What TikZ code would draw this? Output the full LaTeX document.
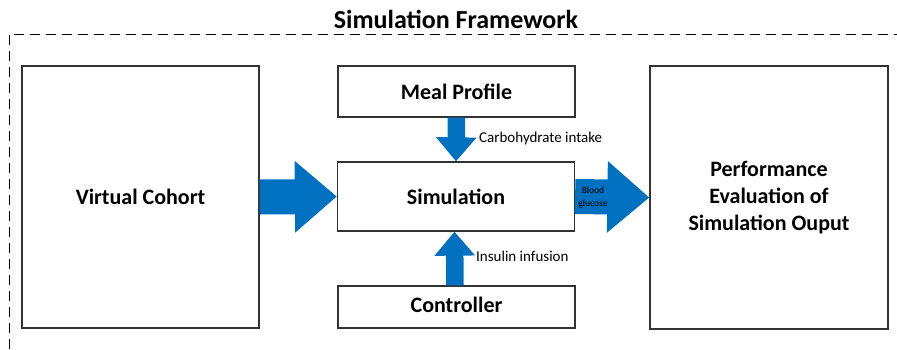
\documentclass[tikz,border=0pt]{standalone}
\usepackage{fontspec}
\setmainfont{Carlito}
\usetikzlibrary{arrows.meta}
\definecolor{flowblue}{HTML}{0070C0}
\definecolor{boxline}{HTML}{333333}
\tikzset{
  block/.style={draw=boxline, line width=1.3pt, fill=white, inner sep=0pt,
    align=center, font=\fontsize{22}{27}\selectfont\bfseries},
  bigflow/.style={draw=flowblue, line width=35pt,
    -{Triangle[length=42pt,width=69pt]}},
  smallflow/.style={draw=flowblue, line width=17.5pt,
    -{Triangle[length=24pt,width=39pt]}},
  flowlabel/.style={font=\fontsize{15}{17}\selectfont, anchor=west, inner sep=0pt},
  frame/.style={draw=black, line width=1pt, dash pattern=on 10pt off 6pt}
}
\begin{document}
\begin{tikzpicture}[x=1pt, y=-1pt]
  \useasboundingbox (0,0) rectangle (897,349);

  % outer framework boundary (only top and left edges fall on the page)
  \coordinate (fbl) at (9,349);
  \coordinate (ftl) at (9,34);
  \coordinate (ftr) at (897,34);
  \draw[frame] (fbl) -- (ftl) -- (ftr);
  \node[font=\fontsize{26}{28}\selectfont\bfseries, anchor=base] (title) at (456,28) {Simulation Framework};

  % blocks
  \node[block, minimum width=237pt, minimum height=262pt] (vc) at (140.5,197) {Virtual Cohort};
  \node[block, minimum width=237pt, minimum height=51pt] (meal) at (456.5,91.5) {Meal Profile};
  \node[block, minimum width=237pt, minimum height=69pt] (sim) at (456,196.5) {Simulation};
  \node[block, minimum width=237pt, minimum height=42pt] (ctrl) at (456.5,307) {\raisebox{4pt}{Controller}};
  \node[block, minimum width=238pt, minimum height=263pt] (perf) at (769,197.5)
    {Performance\\Evaluation of\\Simulation Ouput};

  % flows
  \draw[bigflow] (vc.east) -- (sim.west);
  \draw[bigflow] (sim.east) -- (perf.west);
  \draw[smallflow] (meal.south) -- (sim.north);
  \draw[smallflow] ([xshift=-1.5pt]ctrl.north) -- ([xshift=-1.5pt]sim.south);

  % flow labels
  \node[flowlabel] (carb) at (479,138) {Carbohydrate intake};
  \node[flowlabel] (ins) at (476,256) {Insulin infusion};
  \node[font=\fontsize{9.5}{13}\selectfont, align=center, inner sep=0pt] (bg) at (593,197.5) {Blood\\glucose};
\end{tikzpicture}
\end{document}
